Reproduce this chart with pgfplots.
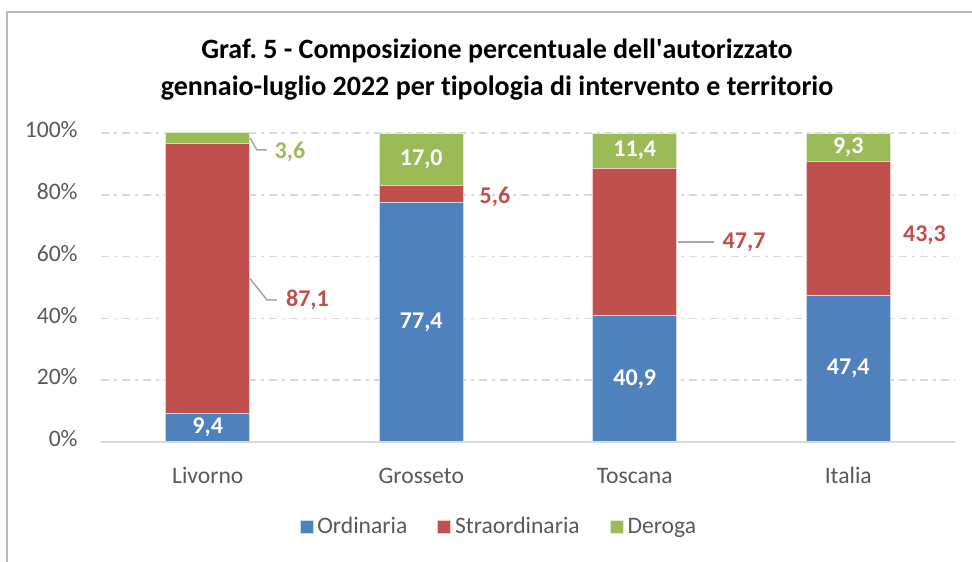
\documentclass[border=0pt]{standalone}
\usepackage{pgfplots}
\pgfplotsset{compat=1.18}
\usepackage{fontspec}
\setmainfont{Carlito}[Ligatures={NoCommon}]
\definecolor{cBlue}{HTML}{4F81BD}
\definecolor{cRed}{HTML}{C0504D}
\definecolor{cGreen}{HTML}{9BBB59}
\definecolor{cText}{HTML}{595959}
\definecolor{cGrid}{HTML}{D9D9D9}
\definecolor{cLead}{HTML}{A6A6A6}
\tikzset{dl/.style={font=\fontsize{12}{14}\selectfont\bfseries, inner sep=0pt}}
\begin{document}
\begin{tikzpicture}
\useasboundingbox (0,0) rectangle (486pt,-280.5pt);
\fill[white] (0,0) rectangle (486pt,-280.5pt);
\draw[cLead!80, line width=1pt] (3.5pt,-281pt) -- (3.5pt,-6pt) -- (487pt,-6pt);
\node[font=\fontsize{14}{18.5}\selectfont\bfseries, align=center, text=black] at (248.5pt,-35pt)
  {Graf.\ 5 - Composizione percentuale dell\textquotesingle autorizzato\\gennaio-luglio 2022 per tipologia di intervento e territorio};
\begin{axis}[
  at={(50.5pt,-221pt)}, anchor=south west,
  width=427pt, height=154.5pt, scale only axis,
  ybar stacked, bar width=42pt,
  xmin=-0.5, xmax=3.5, ymin=0, ymax=100,
  xtick={0,1,2,3}, xticklabels={Livorno,Grosseto,Toscana,Italia},
  ytick={0,20,40,60,80,100},
  yticklabels={0\%,20\%,40\%,60\%,80\%,100\%},
  axis line style={draw=none},
  major tick length=0pt,
  ymajorgrids,
  grid style={cGrid, line width=0.75pt, dash pattern=on 4pt off 2.5pt on 1.5pt off 2.5pt},
  tick label style={font=\fontsize{11.8}{14}\selectfont, text=cText},
  yticklabel style={anchor=mid east, inner sep=0pt, xshift=-11.5pt},
  xticklabel style={anchor=base, inner sep=0pt, yshift=-20.5pt},
  clip=false,
  legend style={at={(0.467,-0.275)}, anchor=center, draw=none, fill=none,
    legend columns=-1, font=\fontsize{11.8}{14}\selectfont, text=cText,
    /tikz/every even column/.append style={column sep=13pt}},
  legend image code/.code={\fill[#1] (0pt,-3.25pt) rectangle (6.5pt,3.25pt);},
  after end axis/.code={
    \draw[cGrid, line width=0.9pt] (axis cs:-0.5,0) -- (axis cs:3.5,0);
    \draw[cLead, line width=0.75pt] (axis cs:0.198,52.9) -- (axis cs:0.277,46.0) -- (axis cs:0.324,46.0);
    \draw[cLead, line width=0.75pt] (axis cs:0.198,98.4) -- (axis cs:0.230,94.5) -- (axis cs:0.277,94.5);
    \draw[cLead, line width=0.75pt] (axis cs:2.203,64.7) -- (axis cs:2.371,64.7);
    \node[dl, white] at (axis cs:0,4.7) {9,4};
    \node[dl, cRed] at (axis cs:0.467,46.0) {87,1};
    \node[dl, cGreen] at (axis cs:0.385,94.0) {3,6};
    \node[dl, white] at (axis cs:1,38.7) {77,4};
    \node[dl, cRed] at (axis cs:1.345,79.3) {5,6};
    \node[dl, white] at (axis cs:1,91.5) {17,0};
    \node[dl, white] at (axis cs:2,20.45) {40,9};
    \node[dl, cRed] at (axis cs:2.512,64.7) {47,7};
    \node[dl, white] at (axis cs:2,94.3) {11,4};
    \node[dl, white] at (axis cs:3,23.7) {47,4};
    \node[dl, cRed] at (axis cs:3.357,67.0) {43,3};
    \node[dl, white] at (axis cs:3,95.35) {9,3};
  },
]
\addplot[fill=cBlue, draw=white!70!cBlue, line width=0.4pt] coordinates {(0,9.4) (1,77.4) (2,40.9) (3,47.4)};
\addplot[fill=cRed, draw=white!70!cRed, line width=0.4pt] coordinates {(0,87.1) (1,5.6) (2,47.7) (3,43.3)};
\addplot[fill=cGreen, draw=white!70!cGreen, line width=0.4pt] coordinates {(0,3.6) (1,17.0) (2,11.4) (3,9.3)};
\legend{Ordinaria,Straordinaria,Deroga}
\end{axis}
\end{tikzpicture}
\end{document}
